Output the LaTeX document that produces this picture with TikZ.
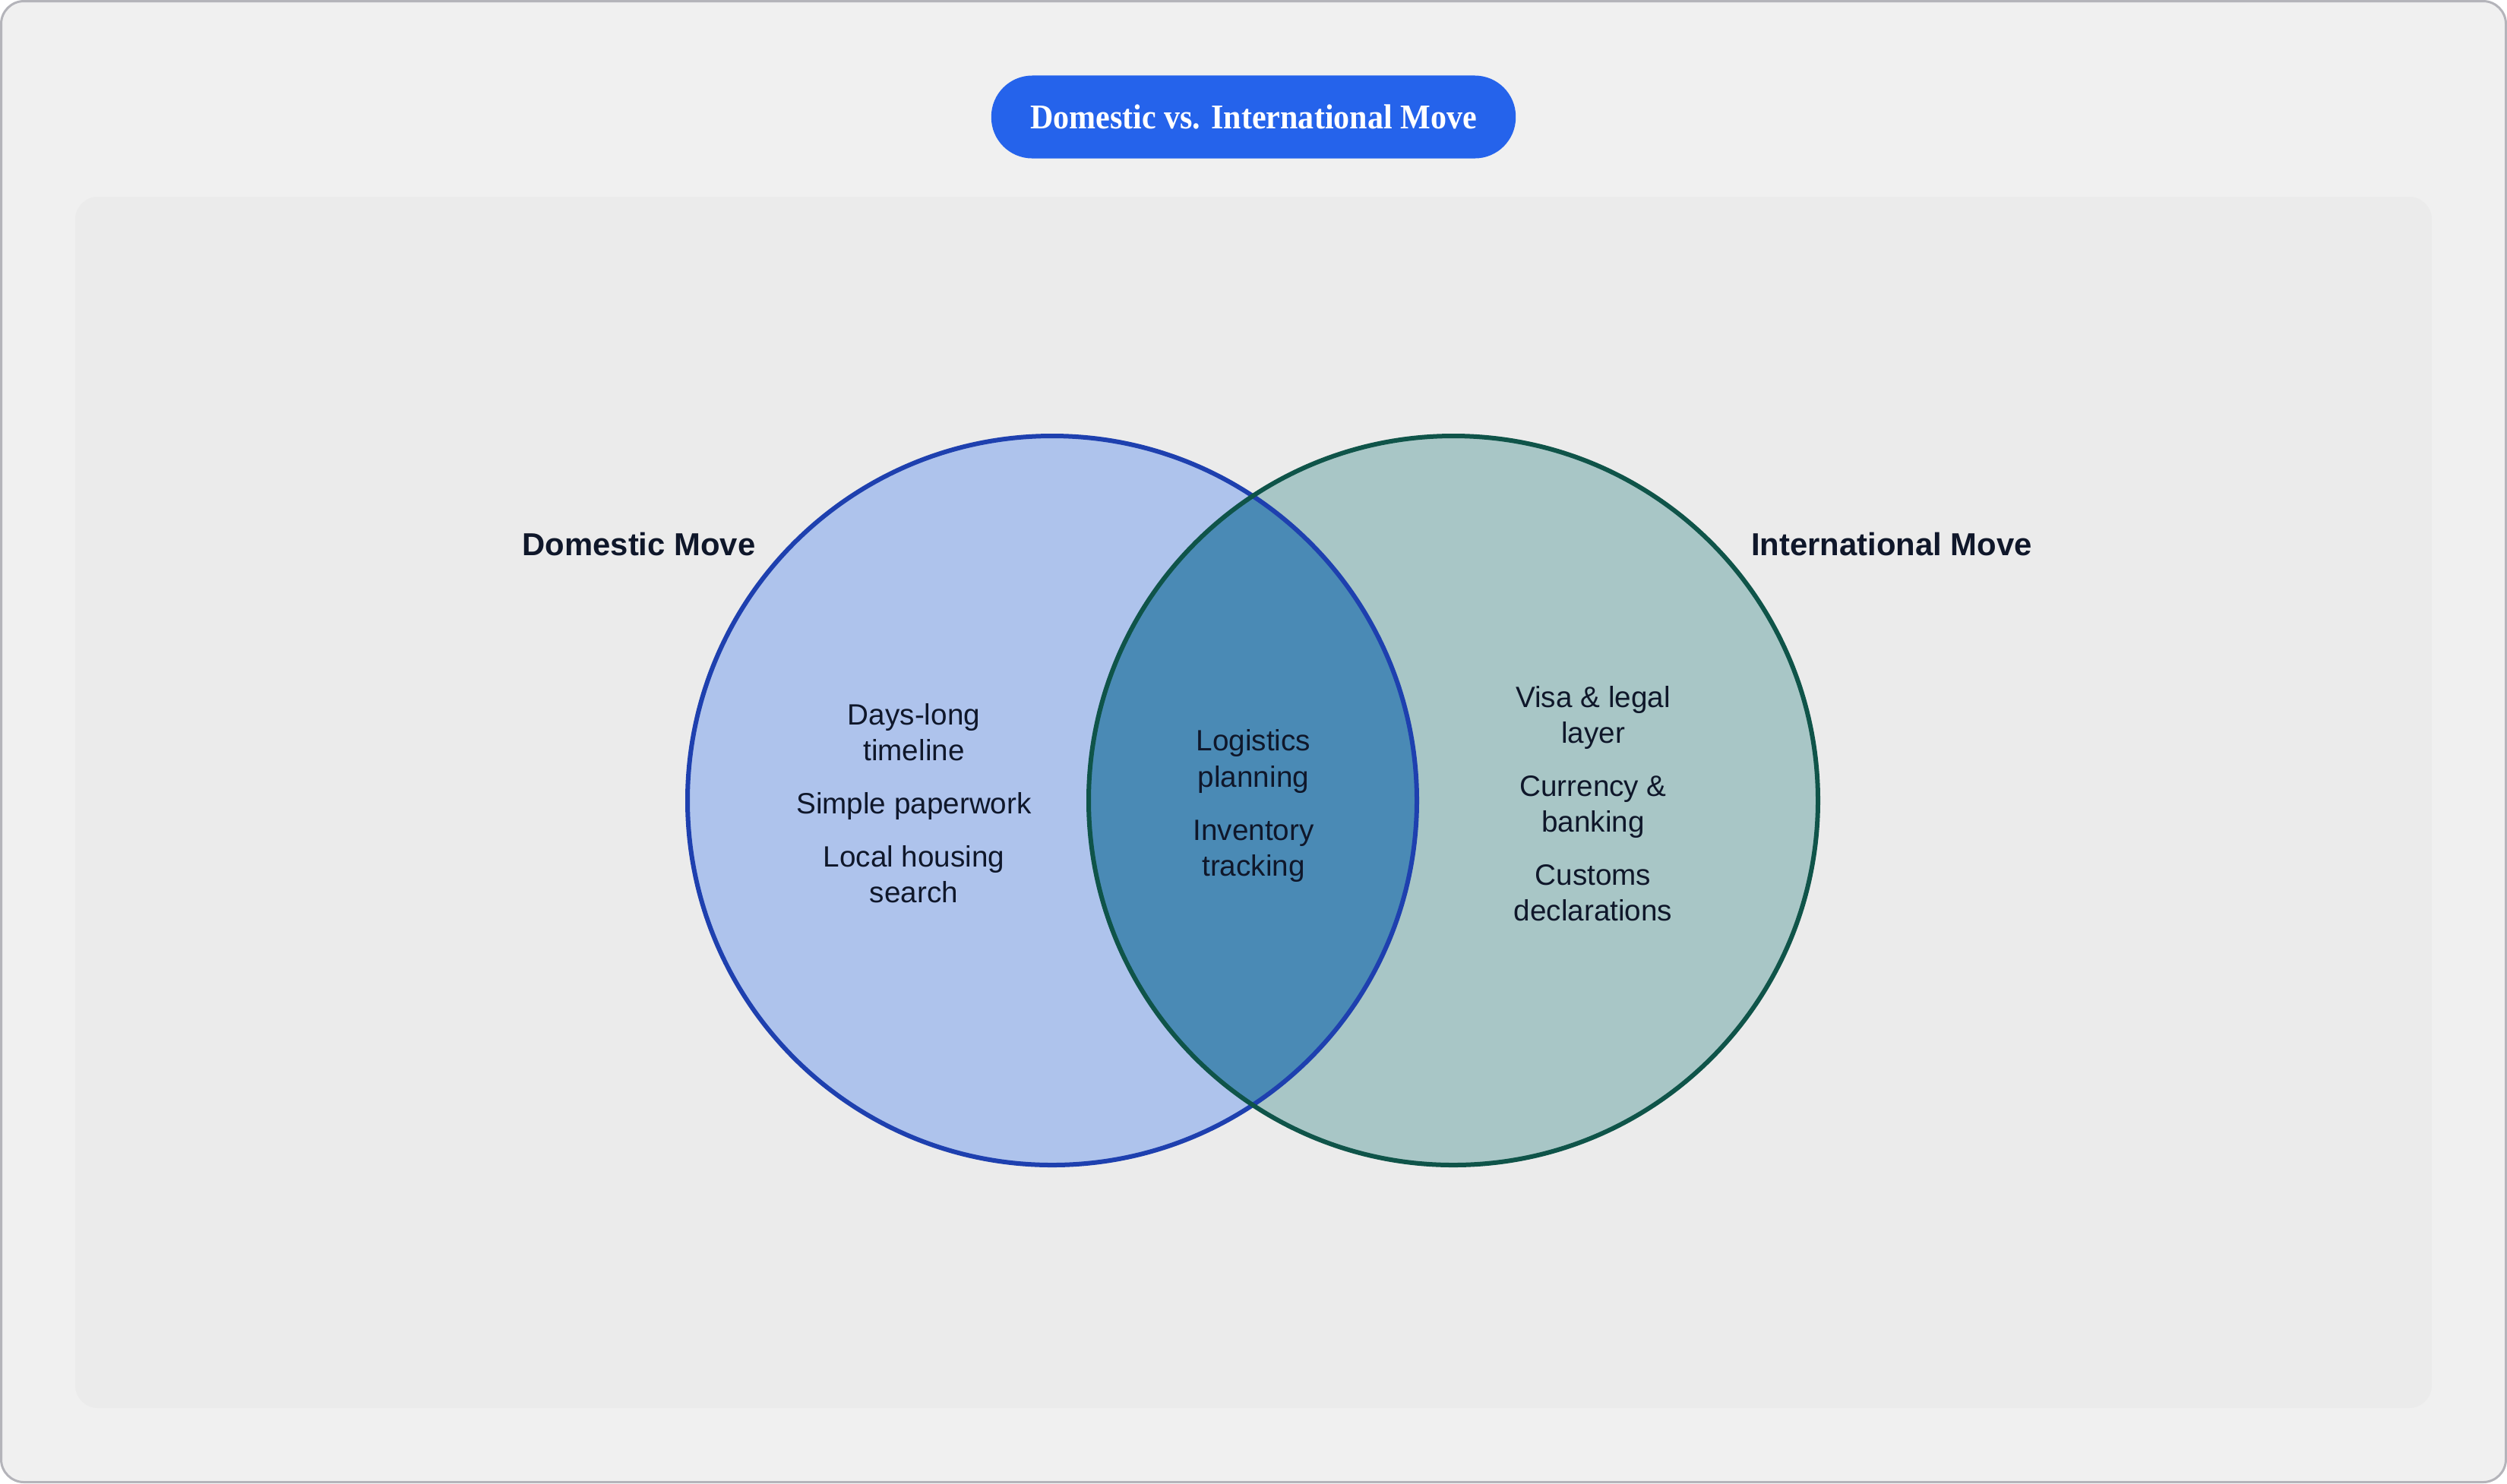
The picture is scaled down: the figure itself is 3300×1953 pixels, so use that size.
\documentclass[tikz,border=0pt]{standalone}
\usepackage{fontspec}
\setmainfont{Liberation Sans}
\newfontfamily\titlefont{Liberation Serif}[FakeStretch=0.92]

\definecolor{frameline}{HTML}{B4B4BA}
\definecolor{framebg}{HTML}{F0F0F0}
\definecolor{panelbg}{HTML}{EBEBEB}
\definecolor{titleblue}{HTML}{2563EB}
\definecolor{domline}{HTML}{1E40AF}
\definecolor{domfill}{HTML}{AEC3EC}
\definecolor{intline}{HTML}{0F5449}
\definecolor{intfill}{HTML}{A8C6C6}
\definecolor{bothfill}{HTML}{4A8AB5}
\definecolor{ink}{HTML}{0F172A}

\tikzset{
	setlabel/.style={font=\fontsize{11.9pt}{14pt}\selectfont\bfseries, text=ink, inner sep=0pt},
	itemlist/.style={font=\fontsize{11pt}{13.37pt}\selectfont, text=ink, align=center, inner sep=0pt},
	titlepill/.style={fill=titleblue, text=white, rounded corners=0.54cm, minimum width=6.9cm, minimum height=1.09cm,
		font=\titlefont\fontsize{13pt}{15pt}\selectfont\bfseries},
}

\begin{document}
\begin{tikzpicture}[x=0.01cm, y=-0.01cm]
		\def\rad{480};
		\def\cy{1054};
		\def\dx{1385};
		\def\ix{1913};
	
		\useasboundingbox (0,0) rectangle (3300,1953);
		\draw[frameline, fill=framebg, line width=0.03cm, rounded corners=0.3cm] (1.5,1.5) rectangle (3298.5,1951.5);
		\fill[panelbg, rounded corners=0.3cm] (99,259) rectangle (3201,1854);
		
		\node[titlepill] (title) at (1650,154) {Domestic vs. International Move};
		
		% the two sets and their overlap
		\fill[domfill] (\dx,\cy) circle (\rad);
		\fill[intfill] (\ix,\cy) circle (\rad);
		\begin{scope}
			\clip (\dx,\cy) circle (\rad);
			\fill[bothfill] (\ix,\cy) circle (\rad);
		\end{scope}
		\draw[domline, line width=0.06cm] (\dx,\cy) circle (\rad);
		\draw[intline, line width=0.06cm] (\ix,\cy) circle (\rad);
		
		\node[setlabel, anchor=base] (domlabel) at (841,731) {Domestic Move};
		\node[setlabel, anchor=base] (intlabel) at (2490,731) {International Move};
		
		\node[itemlist] (domitems) at (1203,1058) {Days-long\\timeline\\[0.23cm]Simple paperwork\\[0.23cm]Local housing\\search};
		\node[itemlist] (bothitems) at (1650,1061) {Logistics\\planning\\[0.23cm]Inventory\\tracking};
		\node[itemlist] (intitems) at (2097,1058) {Visa \& legal\\layer\\[0.23cm]Currency \&\\banking\\[0.23cm]Customs\\declarations};
	\end{tikzpicture}
\end{document}
